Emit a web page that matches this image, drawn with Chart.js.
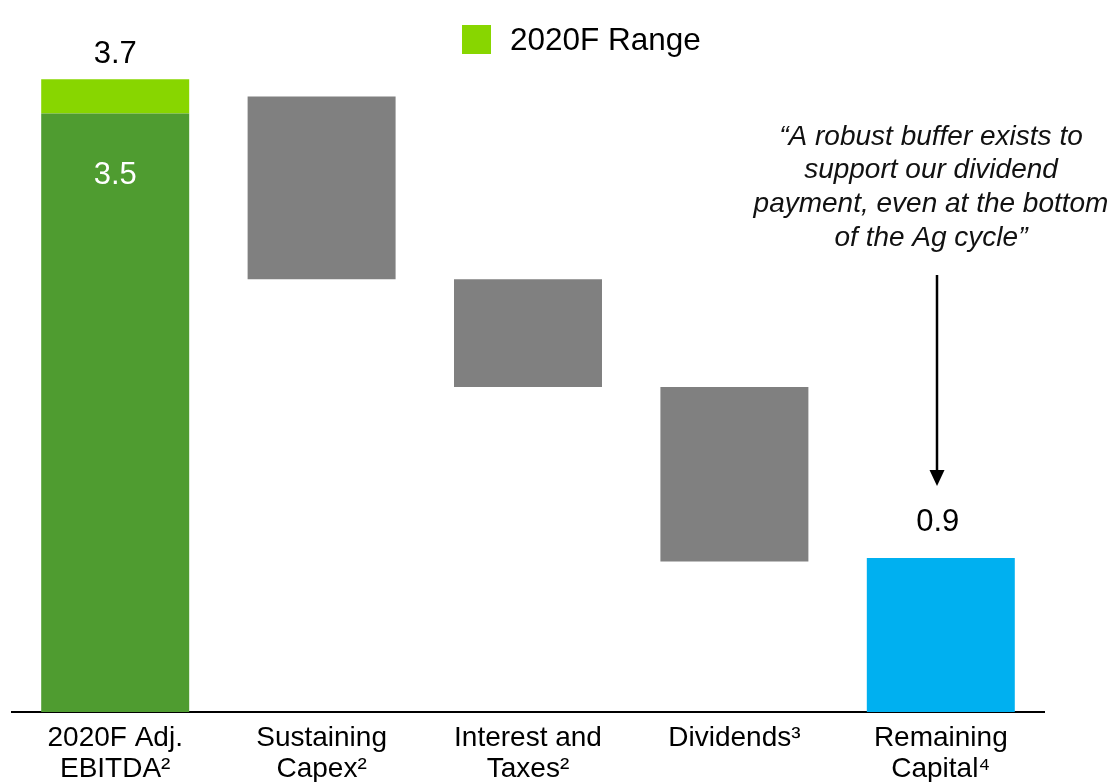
<!DOCTYPE html>
<html>
<head>
<meta charset="utf-8">
<script src="https://cdn.jsdelivr.net/npm/chart.js@4.4.0/dist/chart.umd.min.js"></script>
<style>
  html, body { margin: 0; padding: 0; background: #ffffff; }
  #wrap { width: 1115px; height: 782px; position: relative; }
</style>
</head>
<body>
<div id="wrap"><canvas id="c" width="1115" height="782"></canvas></div>
<script>
// Categories of the cash bridge (superscripts are footnote markers)
const categories = [
  ['2020F Adj.', 'EBITDA²'],
  ['Sustaining', 'Capex²'],
  ['Interest and', 'Taxes²'],
  ['Dividends³'],
  ['Remaining', 'Capital⁴']
];
// Floating bar extents, US$ billions
const barLow  = [0,   2.53, 1.90, 0.88, 0];
const barHigh = [3.5, 3.60, 2.53, 1.90, 0.9];
// Upper part of the EBITDA forecast range
const rangeLow  = [3.5, null, null, null, null];
const rangeHigh = [3.7, null, null, null, null];
const barColors = ['#4F9C30', '#808080', '#808080', '#808080', '#00B0F0'];
const rangeColor = '#88D600';
const legendLabel = '2020F Range';
const quoteLines = [
  '“A robust buffer exists to',
  'support our dividend',
  'payment, even at the bottom',
  'of the Ag cycle”'
];

const FONT = '"Liberation Sans", Arial, Helvetica, sans-serif';

const mainData = barLow.map((lo, i) => (lo === 0 ? barHigh[i] : [lo, barHigh[i]]));
const rangeData = rangeLow.map((lo, i) => (lo === null ? null : [lo, rangeHigh[i]]));

const fmt = v => v.toFixed(1);

const overlay = {
  id: 'overlay',
  afterDatasetsDraw(chart) {
    const ctx = chart.ctx;
    const mainMeta = chart.getDatasetMeta(0);
    const rangeMeta = chart.getDatasetMeta(1);
    ctx.save();
    ctx.textAlign = 'center';
    ctx.textBaseline = 'middle';
    ctx.font = '31px ' + FONT;

    // range top value
    const rEl = rangeMeta.data[0];
    ctx.fillStyle = '#000000';
    ctx.fillText(fmt(rangeHigh[0]), rEl.x, rEl.y - 25);

    // EBITDA value inside bar
    const eEl = mainMeta.data[0];
    ctx.fillStyle = '#ffffff';
    ctx.fillText(fmt(barHigh[0]), eEl.x, eEl.y + 62);

    // remaining capital value
    const last = barHigh.length - 1;
    const bEl = mainMeta.data[last];
    ctx.fillStyle = '#000000';
    ctx.fillText(fmt(barHigh[last]), bEl.x - 3, bEl.y - 36);

    // legend
    ctx.fillStyle = rangeColor;
    ctx.fillRect(462, 25, 29, 29);
    ctx.fillStyle = '#000000';
    ctx.textAlign = 'left';
    ctx.font = '31.5px ' + FONT;
    ctx.fillText(legendLabel, 510, 41);

    // quote
    ctx.textAlign = 'center';
    ctx.font = 'italic 28px ' + FONT;
    ctx.fillStyle = '#111111';
    const qx = 931;
    quoteLines.forEach((t, i) => ctx.fillText(t, qx, 137 + i * 33.7));

    // arrow pointing to the remaining capital
    const ax = 937;
    ctx.strokeStyle = '#000000';
    ctx.lineWidth = 2.5;
    ctx.beginPath();
    ctx.moveTo(ax, 275);
    ctx.lineTo(ax, 472);
    ctx.stroke();
    ctx.beginPath();
    ctx.moveTo(ax - 7.5, 470);
    ctx.lineTo(ax + 7.5, 470);
    ctx.lineTo(ax, 486);
    ctx.closePath();
    ctx.fillStyle = '#000000';
    ctx.fill();
    ctx.restore();
  }
};

new Chart(document.getElementById('c'), {
  type: 'bar',
  data: {
    labels: categories,
    datasets: [
      {
        label: 'Bridge',
        data: mainData,
        backgroundColor: barColors,
        borderWidth: 0,
        barPercentage: 0.717,
        categoryPercentage: 1.0
      },
      {
        label: legendLabel,
        data: rangeData,
        backgroundColor: rangeColor,
        borderWidth: 0,
        barPercentage: 0.717,
        categoryPercentage: 1.0
      }
    ]
  },
  options: {
    responsive: false,
    animation: false,
    devicePixelRatio: 1,
    layout: { padding: { left: 12, right: 71, top: 28, bottom: 0 } },
    plugins: {
      legend: { display: false },
      tooltip: { enabled: false }
    },
    scales: {
      x: {
        stacked: true,
        grid: { display: false, drawTicks: false },
        border: { display: true, color: '#000000', width: 2 },
        ticks: {
          color: '#000000',
          padding: 11,
          maxRotation: 0,
          autoSkip: false,
          font: { family: FONT, size: 28, lineHeight: 1.1 }
        },
        afterFit(scale) { scale.height = 70; }
      },
      y: {
        display: false,
        stacked: false,
        min: 0,
        max: 4.0
      }
    }
  },
  plugins: [overlay]
});
</script>
</body>
</html>
